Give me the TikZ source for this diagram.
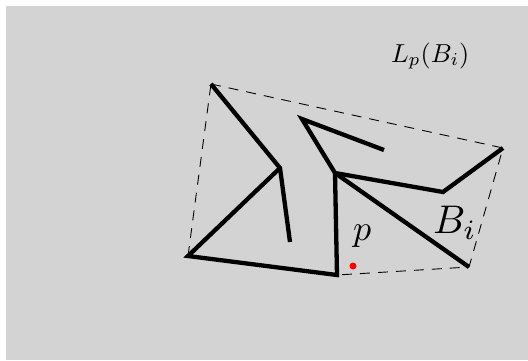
\documentclass[tikz,border=0pt]{standalone}
\definecolor{bggray}{RGB}{211,211,211}
\tikzset{
  branch/.style={line width=4.3pt, line join=miter, line cap=butt},
  hull/.style={line width=0.9pt, dash pattern=on 10pt off 8pt},
  lbl/.style={inner sep=0pt, outer sep=0pt}
}
\begin{document}
\begin{tikzpicture}[x=1pt,y=-1pt]
\useasboundingbox (0,0) rectangle (528,360);
\fill[white] (0,0) rectangle (528,360);
\fill[bggray] (6,6) rectangle (528,360);
% vertices
\coordinate (A) at (211,84);
\coordinate (P1) at (280,168);
\coordinate (E1) at (290,242);
\coordinate (BL) at (188,256);
\coordinate (BM) at (337,275);
\coordinate (P2) at (335,173);
\coordinate (T) at (302,119);
\coordinate (E2) at (384,150);
\coordinate (M) at (443,192);
\coordinate (TR) at (503,148);
\coordinate (BR) at (469,267);
% hull
\draw[hull] (A) -- (TR) -- (BR) -- (BM);
\draw[hull] (BL) -- (A);
% tree
\draw[branch] (A) -- (P1) -- (E1);
\draw[branch] (P1) -- (BL) -- (BM) -- (P2);
\draw[branch] (P2) -- (T) -- (E2);
\draw[branch] (P2) -- (M) -- (TR);
\draw[branch] (P2) -- (BR);
% point
\fill[red] (353,266) circle (3.5pt);
\node[lbl, anchor=base west, scale=3.6] (plbl) at (353,240) {$p$};
\node[lbl, anchor=base west, scale=4.0] (blbl) at (433,233) {$B_i$};
\node[lbl, anchor=base west, scale=2.6] (llbl) at (391,62) {$L_p(B_i)$};
\end{tikzpicture}
\end{document}
